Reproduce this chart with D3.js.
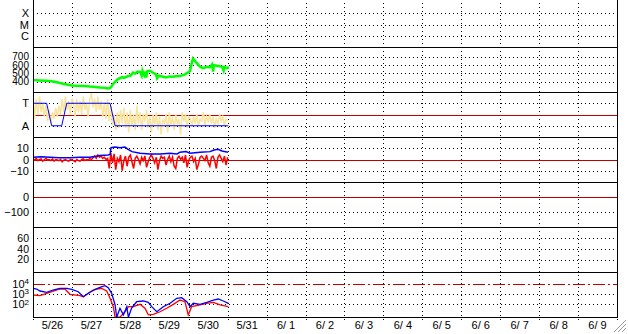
<!DOCTYPE html>
<html>
<head>
<meta charset="utf-8">
<script src="https://cdn.jsdelivr.net/npm/d3@7"></script>
<style>
body { margin: 0; background: #fff; }
svg { display: block; font-family: "Liberation Sans", Arial, sans-serif; font-size: 11px; }
.grid line { stroke: #000; stroke-dasharray: 1,3; shape-rendering: crispEdges; }
.grid path { display: none; }
.yaxis path, .yaxis line { display: none; }
.frame { stroke: #000; shape-rendering: crispEdges; }
</style>
</head>
<body>
<div id="chart"></div>
<script>
// time axis: hours since 5/26 00:00
var dayLabels = ["5/26", "5/27", "5/28", "5/29", "5/30", "5/31", "6/ 1", "6/ 2",
	"6/ 3", "6/ 4", "6/ 5", "6/ 6", "6/ 7", "6/ 8", "6/ 9"];

var flagLevels = ["X", "M", "C"];
var modeLevels = ["A", "T"];   // A = 0, T = 1

// panel 2 (green)
var greenSeries = [[0,418],[4,414],[8,410],[10.5,406],[14,395],[16.6,382],[20,368],[24,352],
	[29,346],[32,348],[35.1,340],[38,336],[41.3,328],[44,326],[46.2,316],[47.5,322],[48.1,334],
	[49.3,370],[51,404],[52.4,430],[54.9,454],[56,444],[58.6,466],[60,470],[61.7,508],[63,496],
	[64.5,520],[66,514],[67,470],[67.5,530],[68.5,480],[69,520],[69.8,450],[70.5,525],[72.1,530],
	[73.5,512],[75.8,486],[76.5,440],[77.5,470],[78.3,466],[82,450],[84,462],[86.3,458],[88,464],
	[90.6,466],[93.7,486],[95.6,510],[96.8,526],[98,634],[98.6,676],[99.9,646],[101.1,618],
	[103,578],[104.8,562],[107.3,578],[109,570],[110.4,606],[111,520],[111.5,596],[113.4,590],
	[116.5,578],[117.5,530],[118,576],[119.6,562],[120.8,574]];

// panel 3: hourly pale yellow values (T = 1, A = 0) and blue mode steps
var yellowHourly = [1.4,0.3,1.2,0.5,1.3,0.6,1.0,0.4,0.9,0.2,0.7,0.1,0.6,0.3,0.8,0.4,0.9,0.5,
	1.2,0.6,1.3,0.7,1.1,0.5,1.2,1.0,0.4,1.2,0.6,1.1,0.5,1.3,0.7,1.0,0.4,1.2,1.45,0.8,1.2,0.6,
	1.3,0.7,1.1,0.4,1.0,0.3,1.2,0.2,0.9,0.0,0.5,-0.2,0.6,-0.1,0.7,0.1,0.8,-0.1,0.6,-0.3,0.7,
	0.0,0.5,-0.2,0.9,0.1,0.6,-0.2,0.5,0.2,0.7,-0.1,0.4,-0.3,0.5,0.0,0.6,-0.2,0.4,-0.4,0.3,0.1,
	0.5,-0.3,0.6,0.0,0.4,-0.2,0.5,0.1,0.3,-0.4,0.6,0.2,0.5,-0.1,0.4,0.3,0.0,0.4,0.1,0.5,0.0,
	0.3,0.2,0.6,0.0,0.4,0.2,0.5,0.1,0.4,-0.1,0.3,0.1,0.5,0.2,0.4,0.0,0.3,0.2];
var modeSteps = [[0,"T"],[8.4,"T"],[11.5,"A"],[17.7,"A"],[20.8,"T"],[47.5,"T"],[50.6,"A"],[120.4,"A"]];

// panel 4: hourly red values, blue line
var redHourly = [0.5,-0.5,1,-1,0,0.5,-1.5,0,1,-0.5,0,-1,0.5,-1.5,0,-0.5,-1,0,-2,-0.5,0,-1,
	-1.5,0,-0.5,-1,-2,0,-1,-1.5,0,0.5,-1,0,-0.5,1,0,1.5,3,1,4,2,3,1,2,0,1,
	-8,6,-3,5,-9,1,-2,4,-10,-1,3,-6,2,4,-2,-8,1,3,0,-4,2,-1,3,-7,-2,2,4,1,-3,2,-9,-1,3,1,2,
	-5,0,3,-2,2,-6,-8,1,3,0,2,-3,4,-7,-1,2,3,-2,1,-9,-4,2,3,1,-1,4,-3,-6,2,3,-1,-8,2,4,1,
	-2,3,-5,2];
var blueSeries = [[0,2],[5,2.5],[10.5,2],[16,1.5],[22.8,1.5],[29,2],[35.1,2],[41.3,3.5],[46.2,4],
	[47.5,4.5],[48.1,10.5],[50.6,11],[53.6,10.5],[56.7,11],[58.6,9],[61,7],[66,5.5],[72.1,5],
	[78.3,5],[84.5,5.5],[88.8,5],[90.6,6.5],[94.3,7],[96.8,5.5],[99.9,6],[103,6.5],[109.1,7],
	[111.6,8.5],[114.1,9],[116.5,7.5],[120.2,6.5]];

// panel 7 (log)
var logRed = [[0,800],[4.3,684],[8.4,1160],[12.5,1920],[16.6,2990],[19.7,2990],[22.8,930],
	[29,684],[31,550],[35.1,1450],[39.3,2990],[42.4,3480],[45.4,1920],[47.5,389],[49.5,61],
	[50.6,6],[53.6,6],[56.7,20],[58.8,61],[61.8,61],[66,102],[69,43],[71.1,10],[74.2,11.5],
	[78.3,20],[82.4,43],[86.5,102],[90.6,265],[93.7,182],[95.7,10],[97.8,61],[103,89],
	[107.1,129],[111.2,160],[115.3,89],[120.4,61]];
var logBlue = [[0,3500],[2.3,2990],[4.3,1920],[8.4,1450],[12.3,2400],[16.6,3500],[20.8,3500],
	[23.9,2790],[27.9,1650],[31,550],[34.1,1160],[37.2,2400],[41.3,4340],[44.4,6170],[46.4,3980],
	[48.5,1160],[50.6,89],[51.6,6],[53.6,43],[55.7,10],[57.8,61],[58.8,6],[60.8,46],[63.9,182],
	[68,214],[71.1,160],[73.2,61],[76.3,20],[80.3,61],[84.5,129],[88.6,389],[91.7,440],[94.8,182],
	[96.8,61],[98.8,129],[103,102],[107.1,160],[111.2,265],[114.2,331],[117.3,214],[120.4,129]];

var logTicks = [100, 1000, 10000];

var W = 628, H = 334;
var left = 33, right = 617;
var panelTops = [2, 47, 92, 137, 182, 227, 272], panelH = 45, bottom = 317;

var t0 = new Date(2024, 4, 26);
function hr(h) { return new Date(t0.getTime() + h * 36e5); }

var x = d3.scaleTime()
		.domain([t0, hr(24 * dayLabels.length)])
		.range([left, right]);

var svg = d3.select("#chart").append("svg")
		.attr("width", W)
		.attr("height", H);

// vertical day grid
svg.append("g")
	.attr("class", "grid")
	.attr("transform", "translate(0," + bottom + ")")
	.call(d3.axisBottom(x).ticks(d3.timeDay.every(1)).tickSize(-(bottom - panelTops[0]) - 2).tickSizeOuter(0).tickFormat(""))
	.selectAll("line").attr("y1", 3).attr("stroke-dasharray", "1,2");

// day labels
svg.append("g").selectAll("text")
	.data(dayLabels)
	.enter().append("text")
		.attr("x", function(d, i) { return x(hr(i * 24 + 12)); })
		.attr("y", 329)
		.attr("text-anchor", "middle")
		.style("font-size", "11px")
		.text(function(d) { return d; });

function panelScale(i, scale) {
	return scale.range([panelTops[i] + panelH, panelTops[i]]);
}

var yFlag = d3.scalePoint().domain(flagLevels).range([panelTops[0], panelTops[0] + panelH]).padding(1);
var yGreen = panelScale(1, d3.scaleLinear().domain([275, 815]));
var yMode = panelScale(2, d3.scaleLinear().domain([-0.5, 1.5]));
var yDiff = panelScale(3, d3.scaleLinear().domain([-20, 20]));
var yP5 = panelScale(4, d3.scaleLinear().domain([-200, 100]));
var yP6 = panelScale(5, d3.scaleLinear().domain([-3, 80]));
var yLog = panelScale(6, d3.scaleLog().domain([Math.pow(10, 0.8), Math.pow(10, 5.1)]));

function yAxis(scale, values, fmt, grid, size) {
	var g = svg.append("g").attr("class", "yaxis").attr("transform", "translate(" + left + ",0)");
	var ax = d3.axisLeft(scale).tickSize(0).tickPadding(4);
	if (values) ax.tickValues(values);
	if (fmt) ax.tickFormat(fmt);
	g.call(ax);
	g.selectAll("text").style("font-size", size || "11px");
	if (grid !== false) {
		svg.append("g").attr("class", "grid")
			.attr("transform", "translate(" + left + ",0)")
			.call(d3.axisLeft(scale).tickValues(grid || values || scale.domain()).tickSize(-(right - left)).tickFormat(""));
	}
	return g;
}

yAxis(yFlag);
yAxis(yGreen, [400, 500, 600, 700], null, null, "10px");
yAxis(yMode, [1, 0], function(d) { return modeLevels[d]; });
yAxis(yDiff, [-10, 0, 10], null, [-10, 10]);
yAxis(yP5, [-100, 0], null, [-100]);
yAxis(yP6, [20, 40, 60], null, null, "10.5px");
var lg = yAxis(yLog, logTicks, function() { return ""; }, [100, 1000]);
lg.selectAll(".tick text")
	.each(function(d) {
		var t = d3.select(this);
		t.append("tspan").text("10");
		t.append("tspan").attr("dy", "-0.45em").style("font-size", "8px").text(Math.round(Math.log10(d)));
	});

// reference lines
var refColor = "#c00000";
[[yMode, 0.5], [yDiff, 0], [yP5, 0]].forEach(function(r) {
	svg.append("line")
		.attr("x1", left).attr("x2", right)
		.attr("y1", Math.round(r[0](r[1])) + 0.5).attr("y2", Math.round(r[0](r[1])) + 0.5)
		.attr("stroke", refColor);
});
svg.append("line")
	.attr("x1", left).attr("x2", right)
	.attr("y1", Math.round(yLog(10000)) + 0.5).attr("y2", Math.round(yLog(10000)) + 0.5)
	.attr("stroke", refColor)
	.attr("stroke-dasharray", "12,3,2,3");

// clip per panel
var defs = svg.append("defs");
panelTops.forEach(function(t, i) {
	defs.append("clipPath").attr("id", "clip" + i)
		.append("rect").attr("x", left).attr("y", t).attr("width", right - left).attr("height", panelH);
});

function drawLine(panel, data, xf, yf, color, width) {
	svg.append("path")
		.datum(data)
		.attr("clip-path", "url(#clip" + panel + ")")
		.attr("fill", "none")
		.attr("stroke", color)
		.attr("stroke-width", width || 1.5)
		.attr("stroke-linejoin", "miter")
		.attr("d", d3.line().x(xf).y(yf));
}

drawLine(1, greenSeries, function(d) { return x(hr(d[0])); }, function(d) { return yGreen(d[1]); }, "#00ff00", 2.5);

drawLine(2, yellowHourly, function(d, i) { return x(hr(i)); }, function(d) { return yMode(d); }, "#f8e49c", 1.5);
drawLine(2, modeSteps, function(d) { return x(hr(d[0])); }, function(d) { return yMode(modeLevels.indexOf(d[1])); }, "#0000ff", 1);

drawLine(3, redHourly, function(d, i) { return x(hr(i)); }, function(d) { return yDiff(d); }, "#ff0000", 1.5);
drawLine(3, blueSeries, function(d) { return x(hr(d[0])); }, function(d) { return yDiff(d[1]); }, "#0000ff", 1.5);

drawLine(6, logRed, function(d) { return x(hr(d[0])); }, function(d) { return yLog(d[1]); }, "#ff0000", 1.3);
drawLine(6, logBlue, function(d) { return x(hr(d[0])); }, function(d) { return yLog(d[1]); }, "#0000ff", 1.3);

// panel separators and frame
panelTops.slice(1).concat([bottom]).forEach(function(t) {
	svg.append("line").attr("class", "frame")
		.attr("x1", left).attr("x2", right).attr("y1", t + 0.5).attr("y2", t + 0.5);
});
svg.append("line").attr("class", "frame")
	.attr("x1", left + 0.5).attr("x2", left + 0.5).attr("y1", 0).attr("y2", bottom + 1);
svg.append("line").attr("class", "frame")
	.attr("x1", right + 0.5).attr("x2", right + 0.5).attr("y1", 0).attr("y2", bottom + 1);

// window resize grip
[4, 8, 12].forEach(function(k) {
	svg.append("line")
		.attr("x1", W - 2).attr("y1", H - 2 - k)
		.attr("x2", W - 2 - k).attr("y2", H - 2)
		.attr("stroke", "#999");
});
</script>
</body>
</html>
